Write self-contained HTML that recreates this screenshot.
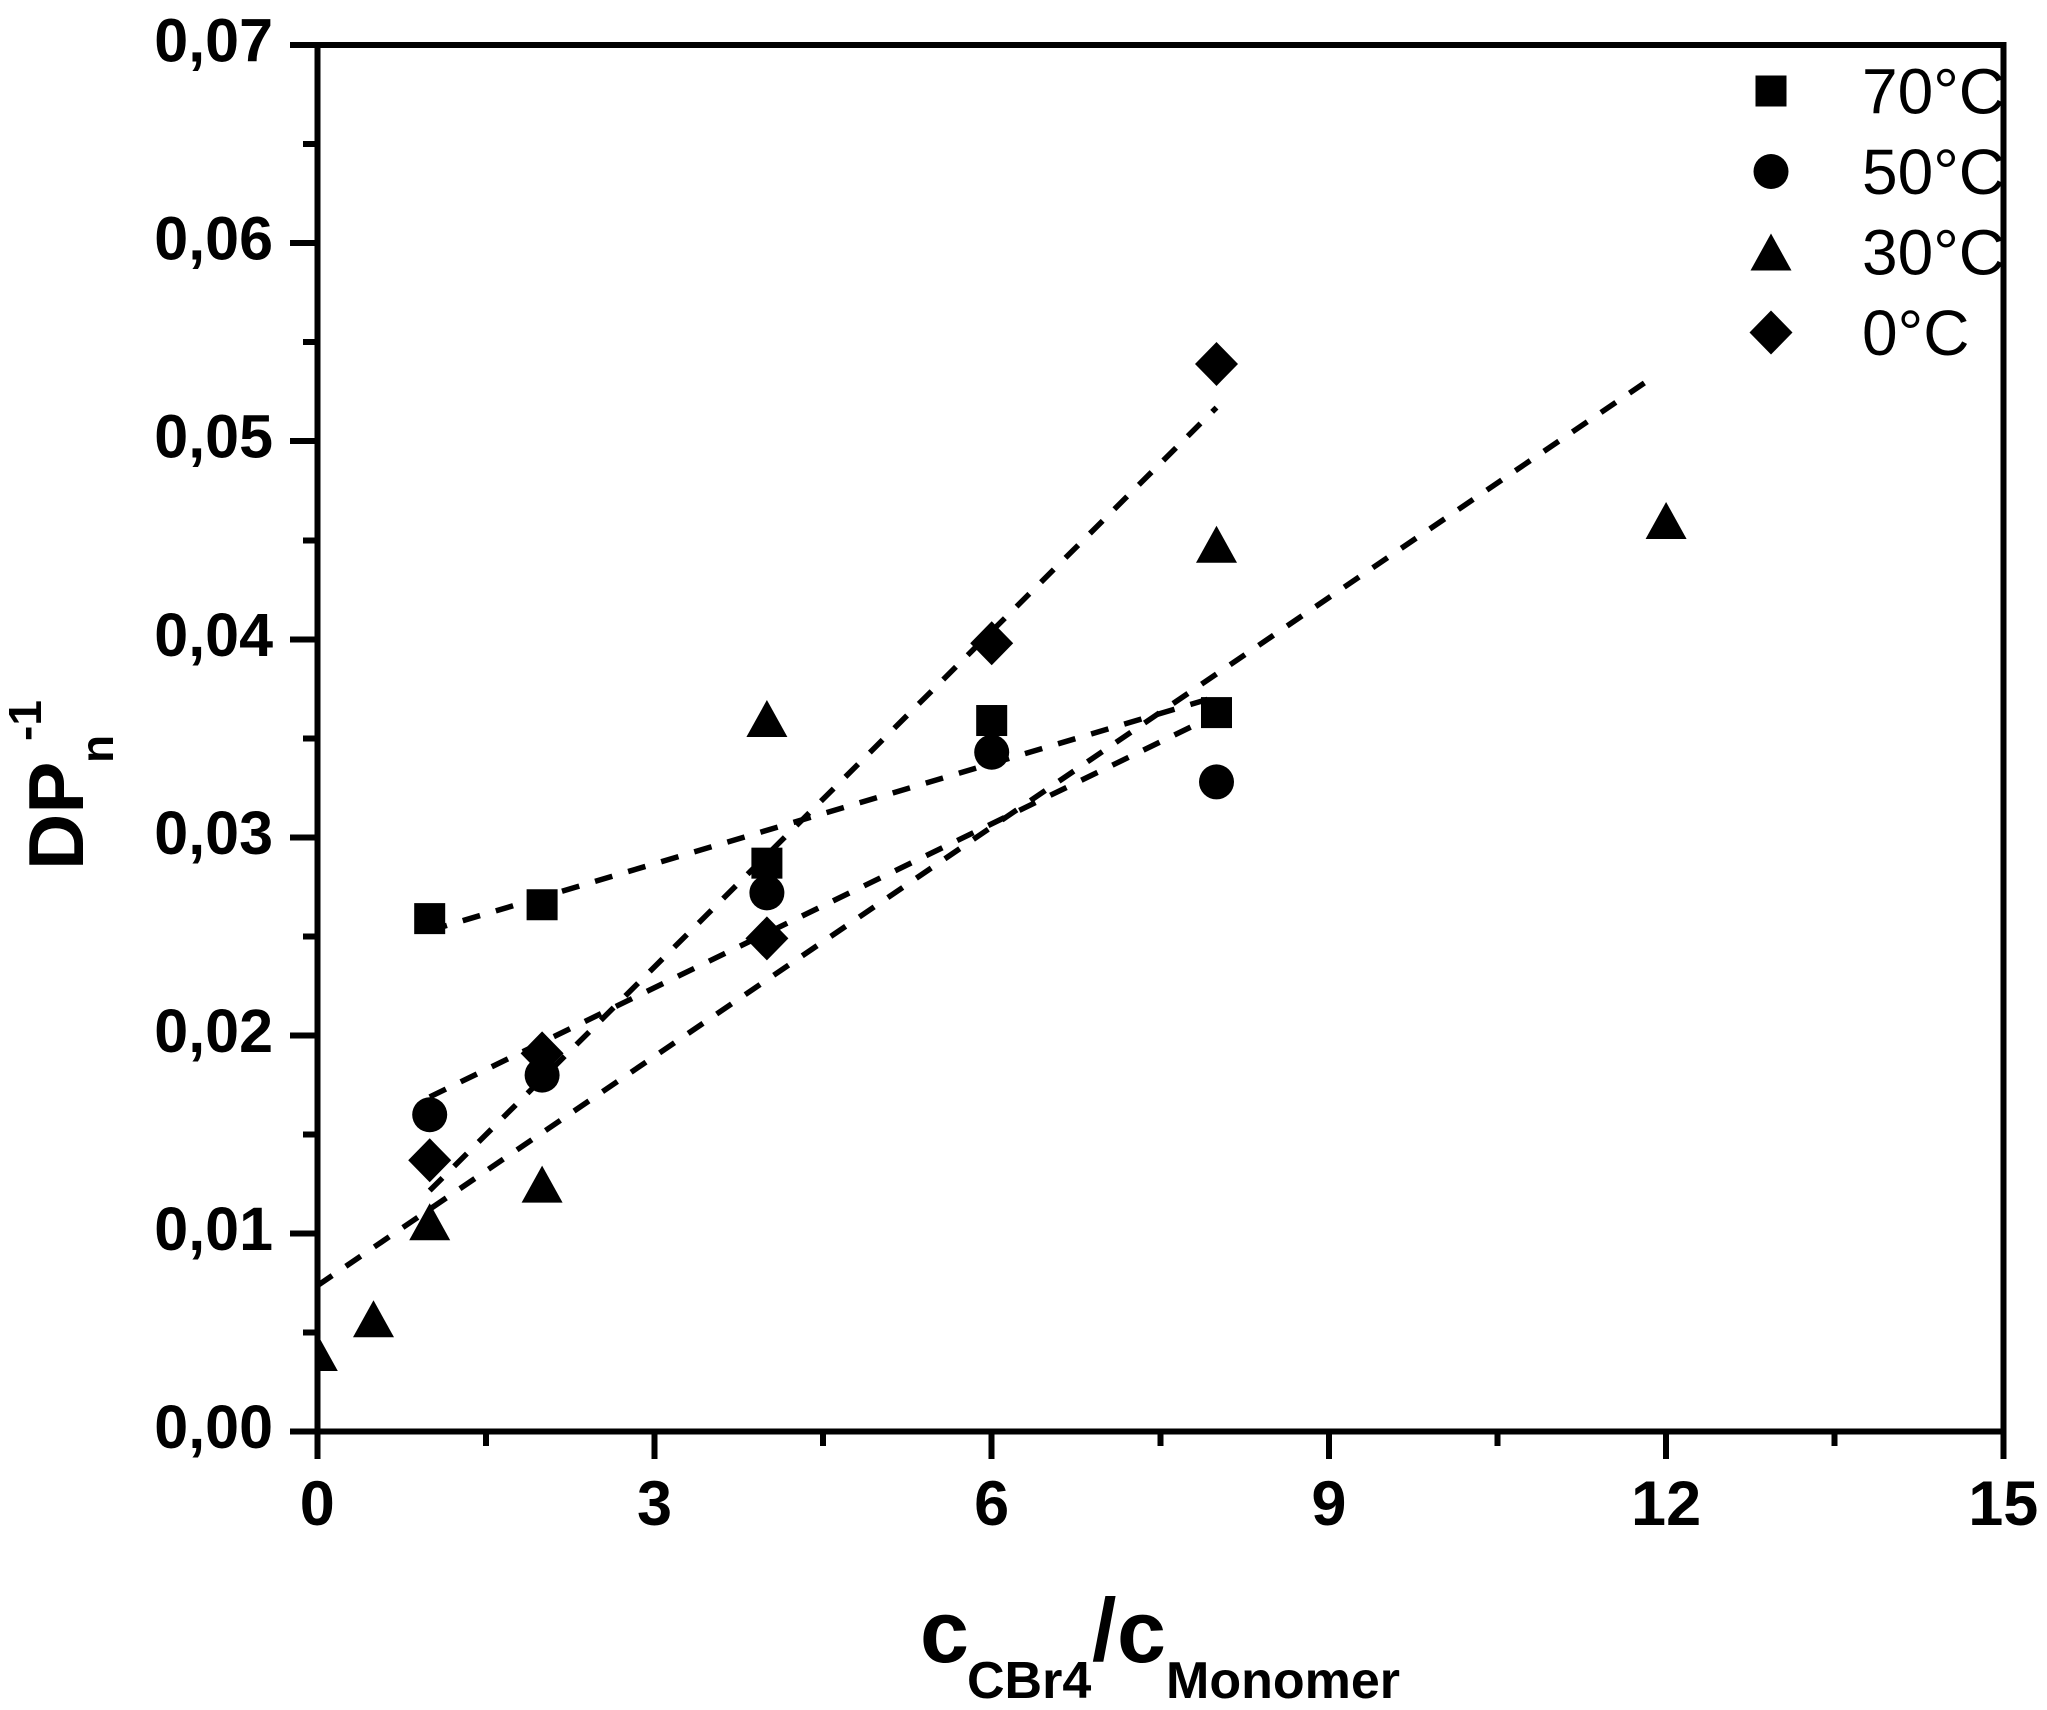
<!DOCTYPE html>
<html lang="en">
<head>
<meta charset="utf-8">
<title>DPn-1 vs cCBr4/cMonomer</title>
<style>
html,body{margin:0;padding:0;background:#fff;width:2047px;height:1710px;overflow:hidden}
svg{display:block;font-family:"Liberation Sans",Arial,sans-serif}
</style>
</head>
<body>
<svg id="chart" xmlns="http://www.w3.org/2000/svg" width="2047" height="1710" viewBox="0 0 2047 1710">
  <defs>
    <clipPath id="plot-clip"><rect x="317.3" y="45" width="1686" height="1387"/></clipPath>
  </defs>
  <rect width="2047" height="1710" fill="#fff"/>
  <g id="fits" clip-path="url(#plot-clip)"></g>
  <g id="marks" clip-path="url(#plot-clip)"></g>
  <g id="axes"></g>
  <g id="legend"></g>
  <g fill="#000" font-weight="bold">
    <text transform="translate(83 870) rotate(-90)" font-size="78">DP</text>
    <text transform="translate(113 763) rotate(-90)" font-size="46">n</text>
    <text transform="translate(41 741) rotate(-90)" font-size="46">-1</text>
  </g>
  <g fill="#000" font-weight="bold">
    <text x="920" y="1662" font-size="88">c</text>
    <text x="967" y="1698" font-size="52">CBr4</text>
    <text x="1092" y="1660" font-size="88">/</text>
    <text x="1117" y="1662" font-size="88">c</text>
    <text x="1166" y="1698" font-size="52">Monomer</text>
  </g>
</svg>
<script>
// Data
var xMajorTicks = [0, 3, 6, 9, 12, 15];
var xMajorLabels = ["0", "3", "6", "9", "12", "15"];
var xMinorTicks = [1.5, 4.5, 7.5, 10.5, 13.5];
var yMajorTicks = [0, 0.01, 0.02, 0.03, 0.04, 0.05, 0.06, 0.07];
var yMajorLabels = ["0,00", "0,01", "0,02", "0,03", "0,04", "0,05", "0,06", "0,07"];
var yMinorTicks = [0.005, 0.015, 0.025, 0.035, 0.045, 0.055, 0.065];

var x70 = [1, 2, 4, 6, 8];
var y70 = [0.0259, 0.0266, 0.0287, 0.0359, 0.0363];
var x50 = [1, 2, 4, 6, 8];
var y50 = [0.0160, 0.0180, 0.0272, 0.0343, 0.0328];
var x30 = [0, 0.5, 1, 2, 4, 8, 12];
var y30 = [0.0040, 0.0057, 0.0106, 0.0125, 0.0360, 0.0448, 0.0460];
var x0 = [1, 2, 4, 6, 8];
var y0 = [0.0137, 0.0191, 0.0249, 0.0398, 0.0539];

var fit70X = [1, 8];
var fit70Y = [0.0253, 0.0371];
var fit50X = [1, 8];
var fit50Y = [0.0169, 0.0362];
var fit30X = [0, 11.9];
var fit30Y = [0.00737, 0.0533];
var fit0X = [1, 8];
var fit0Y = [0.01217, 0.0517];

var legendLabels = ["70°C", "50°C", "30°C", "0°C"];

// Axis functions
function xs(v) { return 317.3 + v * 112.4; }
function ys(v) { return 1431.7 - v * 19810; }

var NS = "http://www.w3.org/2000/svg";
function mk(tag, parent, attrs) {
  var el = document.createElementNS(NS, tag);
  for (var k in attrs) el.setAttribute(k, attrs[k]);
  parent.appendChild(el);
  return el;
}

var axes = document.getElementById("axes");
var fits = document.getElementById("fits");
var marks = document.getElementById("marks");
var legend = document.getElementById("legend");

function axisLine(x1, y1, x2, y2, name) {
  var el = mk("line", axes, {x1: x1, y1: y1, x2: x2, y2: y2, stroke: "#000", "stroke-width": 6, "shape-rendering": "crispEdges"});
  
  
}

// Frame
axisLine(xs(0), ys(0.07) - 3, xs(0), 1459, "left-axis-line");
axisLine(xs(15), ys(0.07) - 3, xs(15), 1459, "right-axis-line");
axisLine(290, ys(0.07), xs(15) + 3, ys(0.07), "top-axis-line");
axisLine(290, ys(0), xs(15) + 3, ys(0), "bottom-axis-line");

// X ticks
xMajorTicks.forEach(function (v, i) {
  axisLine(xs(v), ys(0), xs(v), 1459, "x-major-tick");
  var t = mk("text", axes, {x: xs(v), y: 1525, "text-anchor": "middle", "font-size": 63, "font-weight": "bold", fill: "#000"});
  t.textContent = xMajorLabels[i];
  
  
});
xMinorTicks.forEach(function (v) {
  axisLine(xs(v), ys(0), xs(v), 1446, "x-minor-tick");
});

// Y ticks
yMajorTicks.forEach(function (v, i) {
  axisLine(290, ys(v), xs(0), ys(v), "y-major-tick");
  var t = mk("text", axes, {x: 273, y: ys(v) + 16.5, "text-anchor": "end", "font-size": 61, "font-weight": "bold", fill: "#000"});
  t.textContent = yMajorLabels[i];
  
  
});
yMinorTicks.forEach(function (v) {
  axisLine(303, ys(v), xs(0), ys(v), "y-minor-tick");
});

// Fit lines
function drawFit(xv, yv, name) {
  var el = mk("line", fits, {x1: xs(xv[0]), y1: ys(yv[0]), x2: xs(xv[1]), y2: ys(yv[1]), stroke: "#000", "stroke-width": 5.5, "stroke-dasharray": "18 16.5"});
  
  
}
drawFit(fit70X, fit70Y, "fit-line-70c");
drawFit(fit50X, fit50Y, "fit-line-50c");
drawFit(fit30X, fit30Y, "fit-line-30c");
drawFit(fit0X, fit0Y, "fit-line-0c");

// Marker shapes
function square(p, cx, cy) { return mk("rect", p, {x: cx - 15.5, y: cy - 15.5, width: 31, height: 31, fill: "#000"}); }
function dot(p, cx, cy) { return mk("circle", p, {cx: cx, cy: cy, r: 17.5, fill: "#000"}); }
function tri(p, cx, cy) { return mk("polygon", p, {points: cx + "," + (cy - 18.5) + " " + (cx + 20.5) + "," + (cy + 18.5) + " " + (cx - 20.5) + "," + (cy + 18.5), fill: "#000"}); }
function diamond(p, cx, cy) { return mk("polygon", p, {points: cx + "," + (cy - 22) + " " + (cx + 21.5) + "," + cy + " " + cx + "," + (cy + 22) + " " + (cx - 21.5) + "," + cy, fill: "#000"}); }

function drawSeries(xv, yv, shape, name) {
  xv.forEach(function (v, i) {
    var el = shape(marks, xs(v), ys(yv[i]));
    
    
  });
}
drawSeries(x70, y70, square, "point-70c");
drawSeries(x50, y50, dot, "point-50c");
drawSeries(x30, y30, tri, "point-30c");
drawSeries(x0, y0, diamond, "point-0c");

// Legend
var legendShapes = [square, dot, tri, diamond];
legendLabels.forEach(function (label, i) {
  var row = 91 + i * 80.5;
  var sym = legendShapes[i](legend, 1771, row);
  
  
  var t = mk("text", legend, {x: 1862, y: row + 22.5, "font-size": 64, fill: "#000"});
  t.textContent = label;
  
  
});
</script>
</body>
</html>
